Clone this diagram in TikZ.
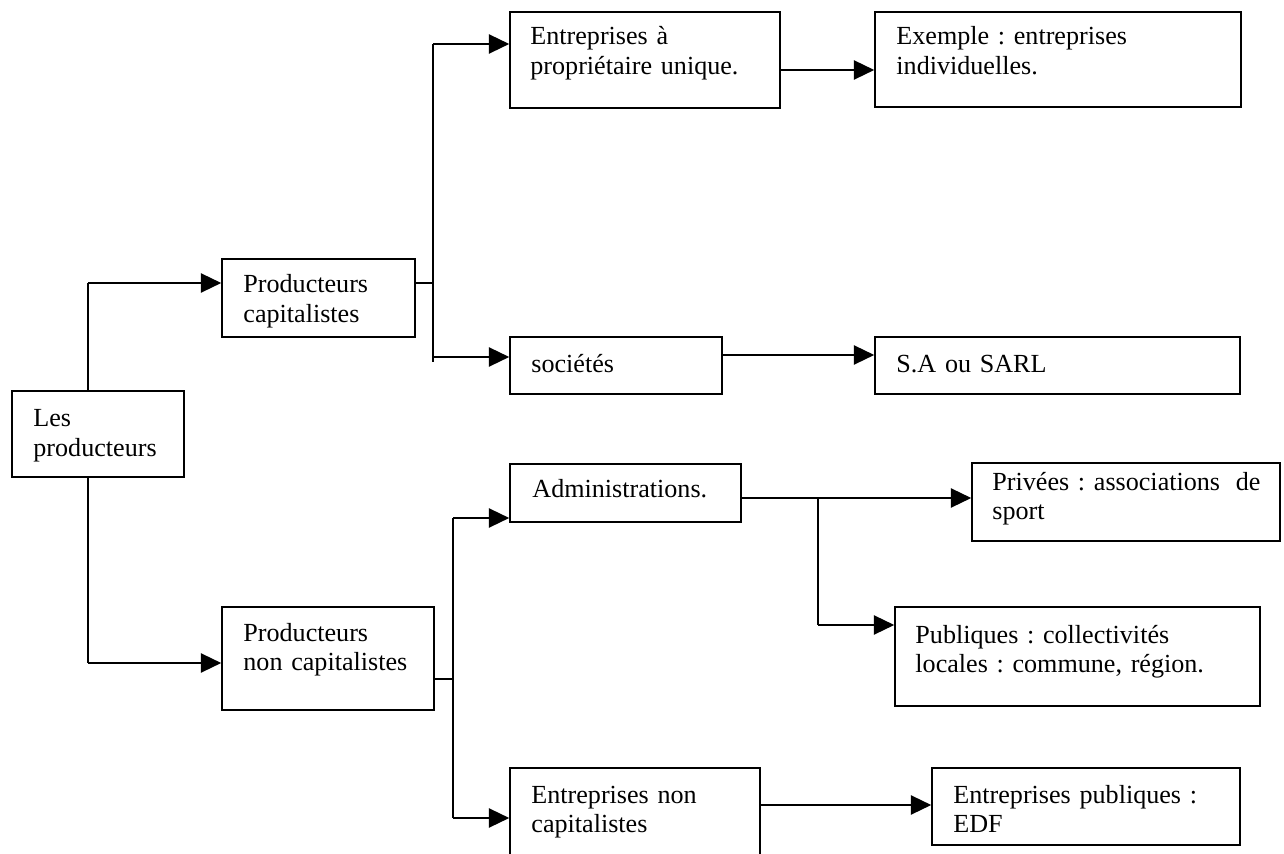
\documentclass[tikz,border=0pt]{standalone}
\usepackage{fontspec}
\setmainfont{Liberation Serif}
\usetikzlibrary{arrows.meta,fit}
\frenchspacing
\begin{document}
\begin{tikzpicture}[x=0.4673pt,y=-0.4673pt,
  box/.style={draw,line width=0.75pt,inner sep=0pt,rectangle},
  txt/.style={anchor=base west,inner sep=0pt,align=left,text width=200pt,font=\frenchspacing\fontsize{12.2}{13.7}\selectfont},
  conn/.style={line width=0.75pt},
  arr/.style={conn,-{Triangle[length=9.5pt,width=9pt]}}]
\useasboundingbox (0,0) rectangle (1284,854);
% box corners
\path (12,391) coordinate (lp1) (184,477) coordinate (lp2)
      (222,259) coordinate (pc1) (415,337) coordinate (pc2)
      (510,12) coordinate (epu1) (780,108) coordinate (epu2)
      (875,12) coordinate (ex1) (1241,107) coordinate (ex2)
      (510,337) coordinate (soc1) (722,394) coordinate (soc2)
      (875,337) coordinate (sa1) (1240,394) coordinate (sa2)
      (510,464) coordinate (adm1) (741,522) coordinate (adm2)
      (972,463) coordinate (pri1) (1280,541) coordinate (pri2)
      (895,607) coordinate (pub1) (1260,706) coordinate (pub2)
      (222,607) coordinate (pnc1) (434,710) coordinate (pnc2)
      (510,768) coordinate (enc1) (760,880) coordinate (enc2)
      (932,768) coordinate (epub1) (1240,845) coordinate (epub2);
% boxes
\node[box,fit=(lp1)(lp2)] (lp) {};
\node[box,fit=(pc1)(pc2)] (pc) {};
\node[box,fit=(epu1)(epu2)] (epu) {};
\node[box,fit=(ex1)(ex2)] (ex) {};
\node[box,fit=(soc1)(soc2)] (soc) {};
\node[box,fit=(sa1)(sa2)] (sa) {};
\node[box,fit=(adm1)(adm2)] (adm) {};
\node[box,fit=(pri1)(pri2)] (pri) {};
\node[box,fit=(pub1)(pub2)] (pub) {};
\node[box,fit=(pnc1)(pnc2)] (pnc) {};
\node[box,fit=(enc1)(enc2)] (enc) {};
\node[box,fit=(epub1)(epub2)] (epub) {};
% texts
\node[txt] (lpt) at (33,427) {Les\\producteurs};
\node[txt] (pct) at (243,293) {Producteurs\\capitalistes};
\node[txt] (eput) at (530,45) {Entreprises à\\propriétaire unique.};
\node[txt] (ext) at (896,45) {Exemple : entreprises\\individuelles.};
\node[txt] (soct) at (531,373) {sociétés};
\node[txt] (sat) at (896,373) {S.A ou SARL};
\node[txt] (admt) at (532,498) {Administrations.};
\node[txt] (prit) at (992,490) {Privées : associations\hspace{0.6em}de\\sport};
\node[txt] (pubt) at (915,643) {Publiques : collectivités\\locales : commune, région.};
\node[txt] (pnct) at (243,641) {Producteurs\\non capitalistes};
\node[txt] (enct) at (531,803) {Entreprises non\\capitalistes};
\node[txt] (epubt) at (953,803) {Entreprises publiques :\\EDF};
% junctions
\coordinate (j1) at (88,283);
\coordinate (j2) at (88,663);
\coordinate (j3) at (433,283);
\coordinate (j3t) at (433,44);
\coordinate (j3b) at (433,357);
\coordinate (j3e) at (433,362);
\coordinate (j4) at (453,679);
\coordinate (j4t) at (453,518);
\coordinate (j4b) at (453,818);
\coordinate (j5) at (818,498);
\coordinate (j5b) at (818,625);
% connectors
\draw[conn] (lp.north -| j1) -- (j1);
\draw[arr] (j1) -- (j1 -| pc.west);
\draw[conn] (lp.south -| j2) -- (j2);
\draw[arr] (j2) -- (j2 -| pnc.west);
\draw[conn] (pc.east |- j3) -- (j3);
\draw[conn] (j3t) -- (j3e);
\draw[arr] (j3t) -- (j3t -| epu.west);
\draw[arr] (j3b) -- (j3b -| soc.west);
\draw[arr] (epu.east |- 0,70) -- (ex.west |- 0,70);
\draw[arr] (soc.east |- 0,355) -- (sa.west |- 0,355);
\draw[conn] (pnc.east |- j4) -- (j4);
\draw[conn] (j4t) -- (j4b);
\draw[arr] (j4t) -- (j4t -| adm.west);
\draw[arr] (j4b) -- (j4b -| enc.west);
\draw[arr] (adm.east |- j5) -- (j5 -| pri.west);
\draw[conn] (j5) -- (j5b);
\draw[arr] (j5b) -- (j5b -| pub.west);
\draw[arr] (enc.east |- 0,805) -- (epub.west |- 0,805);
\end{tikzpicture}
\end{document}
